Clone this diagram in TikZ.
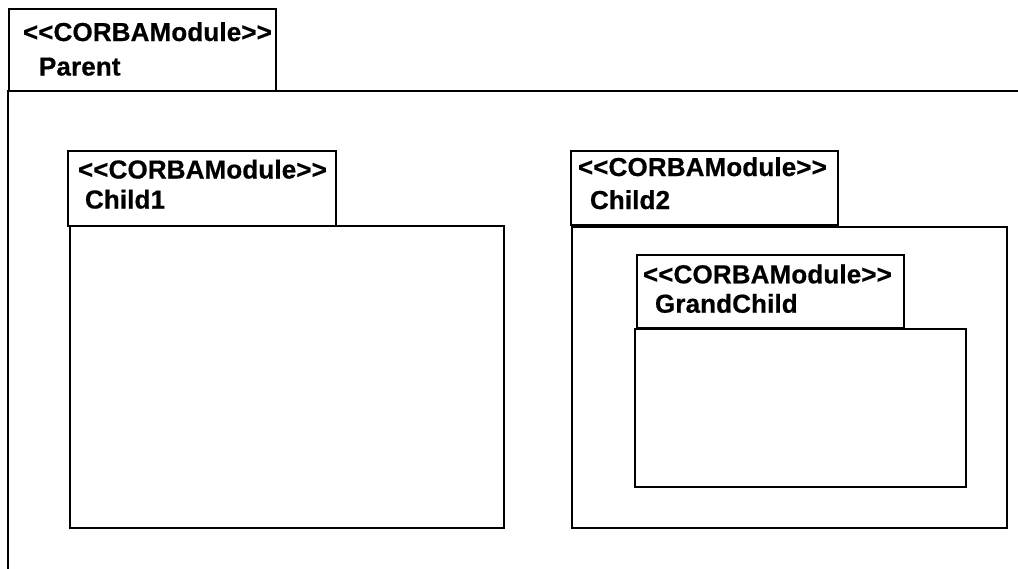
\documentclass[tikz,border=0pt]{standalone}
\usepackage{fontspec}
\newfontfamily\umlfont[LetterSpace=0.5,FakeBold=0.6]{Liberation Sans Bold}
\usepackage{tikz}

\begin{document}
\begin{tikzpicture}[x=1pt,y=-1pt,line width=2pt,
                    modtext/.style={anchor=base west,inner sep=0pt,
                      font=\umlfont\fontsize{26}{30}\selectfont}]
\clip (0,0) rectangle (1018,568);
% Parent
\draw (9,9) rectangle (276,91);
\draw (7.5,600) -- (7.5,91) -- (1050,91) -- (1050,600);
\node[modtext] (parentst) at (22,41) {<<CORBAModule>>};
\node[modtext] (parentnm) at (38,75.5) {Parent};
% Child1
\draw (68,150.5) rectangle (336,225.5);
\draw (69.5,225.5) rectangle (504,527.5);
\node[modtext] (child1st) at (77,178.5) {<<CORBAModule>>};
\node[modtext] (child1nm) at (84,208.5) {Child1};
% Child2
\draw (571,151) rectangle (838,224.5);
\draw (572,226.5) rectangle (1007,527.5);
\node[modtext] (child2st) at (577,176) {<<CORBAModule>>};
\node[modtext] (child2nm) at (589,209) {Child2};
% GrandChild
\draw (637,254.5) rectangle (903.5,328);
\draw (635,328.5) rectangle (966,487);
\node[modtext] (grandst) at (642,283.3) {<<CORBAModule>>};
\node[modtext] (grandnm) at (654,312.7) {GrandChild};
\end{tikzpicture}
\end{document}
